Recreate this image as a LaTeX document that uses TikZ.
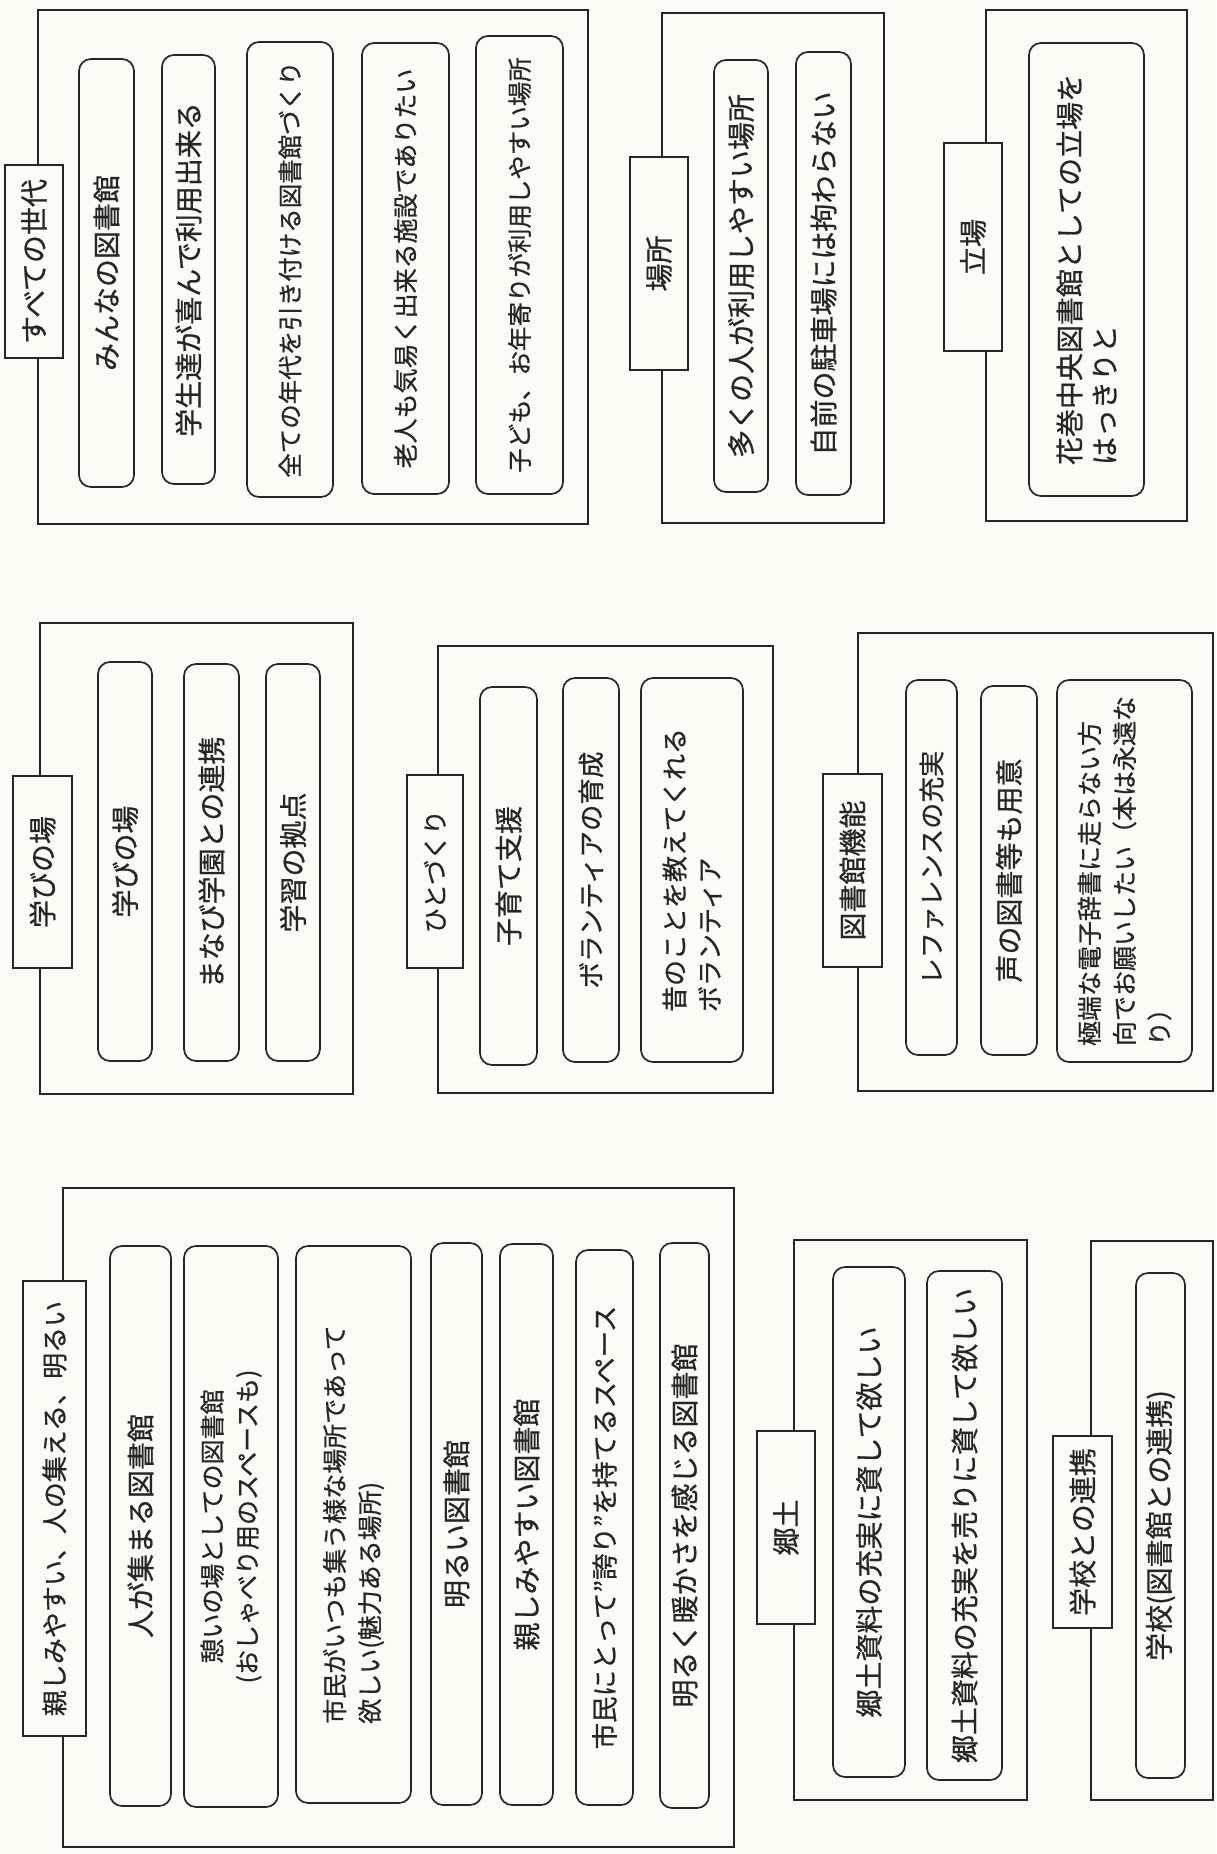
\documentclass[tikz,border=0pt]{standalone}
\usepackage{fontspec}
\setmainfont{Noto Sans CJK JP}[FakeBold=0.7]
\definecolor{ink}{HTML}{262626}
\definecolor{paper}{HTML}{FCFCF7}
% #1 name, #2 style, #3 x1, #4 y1, #5 x2, #6 y2, #7 text  (page pixels, y downwards)
\newcommand{\placebox}[7]{%
  \node[#2, minimum width={#6-#4}, minimum height={#5-#3}] (#1) at ({(#3+#5)/2},{(#4+#6)/2}) {#7};}
\begin{document}
\begin{tikzpicture}[x=1pt,y=-1pt,
  fs/.style={font=\fontsize{#1}{35}\selectfont},
  grp/.style={draw=ink, line width=1.9pt, rotate=90, inner sep=0pt},
  lbl/.style={draw=ink, fill=paper, line width=1.9pt, rotate=90, inner sep=0pt, text=ink, fs=28},
  item/.style={draw=ink, line width=1.7pt, rounded corners=12pt, rotate=90, inner sep=0pt, align=left, text=ink, fs=28}]
\fill[paper] (0,0) rectangle (1216,1854);
\useasboundingbox (0,0) rectangle (1216,1854);

% ---------- outer group frames ----------
\placebox{Aout}{grp}{38}{10}{588}{524}{}
\placebox{Bout}{grp}{662}{13}{884}{523}{}
\placebox{Cout}{grp}{986}{10}{1187}{521}{}
\placebox{Dout}{grp}{40}{623}{353}{1094}{}
\placebox{Eout}{grp}{438}{646}{773}{1093}{}
\placebox{Fout}{grp}{858}{633}{1213}{1091}{}
\placebox{Gout}{grp}{63}{1188}{734}{1847}{}
\placebox{Hout}{grp}{794}{1240}{1027}{1800}{}
\placebox{Iout}{grp}{1091}{1241}{1213}{1800}{}

% ---------- group labels ----------
\placebox{Alab}{lbl}{5}{165}{63}{358}{すべての世代}
\placebox{Blab}{lbl}{630}{157}{688}{370}{場所}
\placebox{Clab}{lbl}{944}{143}{1002}{351}{立場}
\placebox{Dlab}{lbl}{13}{776}{72}{968}{学びの場}
\placebox{Elab}{lbl, fs=25}{407}{775}{463}{968}{ひとづくり}
\placebox{Flab}{lbl}{823}{774}{882}{967}{図書館機能}
\placebox{Glab}{lbl, fs=26}{23}{1281}{86}{1736}{親しみやすい、人の集える、明るい}
\placebox{Hlab}{lbl}{757}{1431}{815}{1624}{郷土}
\placebox{Ilab}{lbl}{1053}{1436}{1112}{1628}{学校との連携}

% ---------- items ----------
\placebox{A1}{item}{79}{59}{134}{487}{みんなの図書館}
\placebox{A2}{item}{162}{55}{215}{484}{学生達が喜んで利用出来る}
\placebox{A3}{item, fs=24.5}{247}{42}{333}{497}{全ての年代を引き付ける図書館づくり}
\placebox{A4}{item, fs=25}{362}{43}{449}{494}{老人も気易く出来る施設でありたい}
\placebox{A5}{item, fs=24.5}{476}{36}{563}{494}{子ども、お年寄りが利用しやすい場所}

\placebox{B1}{item}{714}{60}{768}{492}{多くの人が利用しやすい場所}
\placebox{B2}{item}{796}{52}{851}{495}{自前の駐車場には拘わらない}

\placebox{C1}{item}{1029}{43}{1144}{496}{花巻中央図書館としての立場を\\はっきりと}

\placebox{D1}{item}{98}{662}{152}{1061}{学びの場}
\placebox{D2}{item}{184}{664}{239}{1061}{まなび学園との連携}
\placebox{D3}{item}{266}{664}{320}{1061}{学習の拠点}

\placebox{E1}{item}{480}{687}{537}{1065}{子育て支援}
\placebox{E2}{item, fs=26.5}{563}{678}{619}{1062}{ボランティアの育成}
\placebox{E3}{item, fs=26}{641}{678}{743}{1062}{昔のことを教えてくれる\\ボランティア}

\placebox{F1}{item, fs=26}{906}{680}{957}{1055}{レファレンスの充実}
\placebox{F2}{item}{981}{686}{1037}{1055}{声の図書等も用意}
\placebox{F3}{item, fs=25}{1057}{680}{1192}{1062}{極端な電子辞書に走らない方\\向でお願いしたい（本は永遠な\\り）}

\placebox{G1}{item}{110}{1246}{171}{1806}{人が集まる図書館}
\placebox{G2}{item, fs=25, align=center}{184}{1246}{278}{1807}{憩いの場としての図書館\\(おしゃべり用のスペースも)}
\placebox{G3}{item, fs=25}{296}{1246}{411}{1803}{市民がいつも集う様な場所であって\\欲しい(魅力ある場所)}
\placebox{G4}{item}{431}{1243}{482}{1805}{明るい図書館}
\placebox{G5}{item}{500}{1244}{553}{1805}{親しみやすい図書館}
\placebox{G6}{item, fs=26.5}{576}{1250}{633}{1805}{市民にとって”誇り”を持てるスペース}
\placebox{G7}{item}{660}{1243}{709}{1808}{明るく暖かさを感じる図書館}

\placebox{H1}{item}{833}{1267}{905}{1777}{郷土資料の充実に資して欲しい}
\placebox{H2}{item}{927}{1271}{1002}{1780}{郷土資料の充実を売りに資して欲しい}

\placebox{I1}{item}{1136}{1273}{1185}{1778}{学校(図書館との連携)}
\end{tikzpicture}
\end{document}
